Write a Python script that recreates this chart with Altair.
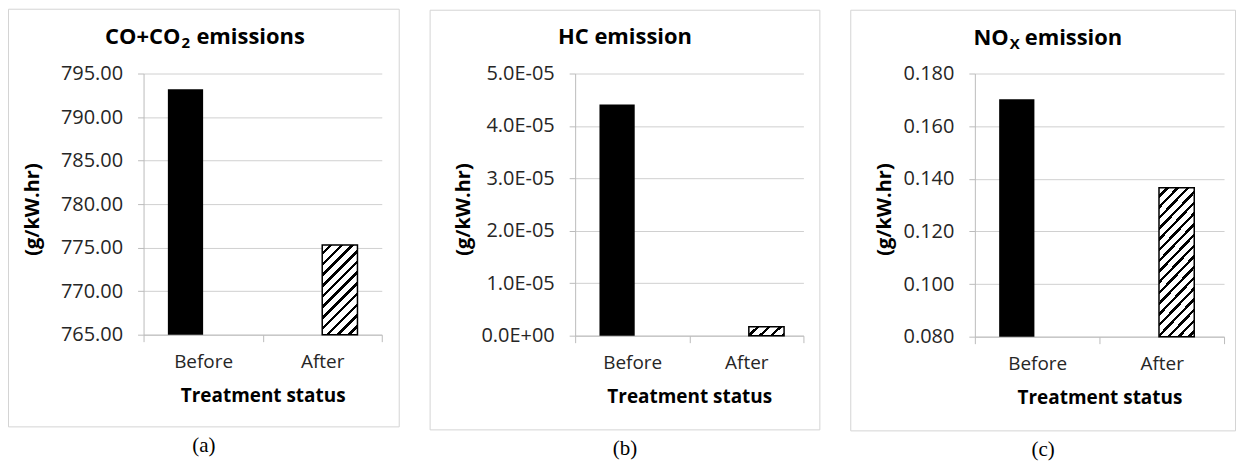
import math
import altair as alt
import pandas as pd

# ---------------- data ----------------
categories = ["Before", "After"]

co_values = [793.2, 775.3]
hc_values = [4.41e-05, 1.7e-06]
nox_values = [0.1702, 0.1366]

co_ticks = [765, 770, 775, 780, 785, 790, 795]
hc_ticks = [0.0, 1e-05, 2e-05, 3e-05, 4e-05, 5e-05]
nox_ticks = [0.08, 0.10, 0.12, 0.14, 0.16, 0.18]

co_title = ["CO+CO", "2", "emissions"]
hc_title = ["HC emission", "", ""]
nox_title = ["NO", "X", "emission"]

captions = ["(a)", "(b)", "(c)"]
y_title = "(g/kW.hr)"
x_title = "Treatment status"

FONT = "Open Sans"
GRID = "#d0d0d0"
AXIS = "#bcbcbc"
LABEL = "#262626"


def hatch_gradient(bar_w, bar_h, period=7.6, black_frac=0.33):
    """45-degree '/' stripes via a hard-stop linear gradient (bbox units)."""
    k = (bar_w + bar_h) / (bar_w ** 2 + bar_h ** 2)
    L = (bar_w + bar_h) / math.sqrt(2)
    stops = []
    s = 0.0
    while s < L:
        w0 = s / L
        b0 = min((s + period * (1 - black_frac)) / L, 1.0)
        b1 = min((s + period) / L, 1.0)
        stops += [
            alt.GradientStop(offset=w0, color="white"),
            alt.GradientStop(offset=b0, color="white"),
            alt.GradientStop(offset=b0, color="black"),
            alt.GradientStop(offset=b1, color="black"),
        ]
        s += period
    return alt.LinearGradient(
        gradient="linear", stops=stops, x1=0, y1=0, x2=k * bar_w, y2=k * bar_h
    )


def panel(values, ticks, label_expr, W, H, border, title_parts, title_pos,
          ytitle_x, caption, cap_x, po=0.69):
    dmin, dmax = ticks[0], ticks[-1]
    df = pd.DataFrame({"cat": categories, "series": categories, "value": values})
    one = pd.DataFrame({"k": [0]})

    band = W / 2
    bar_w = band / (2 + 2 * po)
    bar_h = (values[1] - dmin) / (dmax - dmin) * H
    grad = hatch_gradient(bar_w, bar_h)

    base = alt.Chart(df).encode(
        x=alt.X(
            "cat:N",
            sort=categories,
            scale=alt.Scale(domain=categories, paddingInner=0, paddingOuter=0),
            axis=alt.Axis(
                title=x_title, labelAngle=0, tickBand="extent", tickSize=7,
                labelPadding=11, grid=False, domainColor=AXIS, tickColor=AXIS,
                labelFont=FONT, labelFontSize=19, labelColor=LABEL,
                titleFont=FONT, titleFontSize=19, titleFontWeight="bold",
                titleColor="black", titleY=61, titleBaseline="middle",
            ),
        ),
        xOffset=alt.XOffset(
            "series:N",
            scale=alt.Scale(domain=categories, paddingInner=0, paddingOuter=po),
        ),
        y=alt.Y(
            "value:Q",
            scale=alt.Scale(domain=[dmin, dmax], zero=False, nice=False),
            axis=alt.Axis(
                values=ticks, labelExpr=label_expr, grid=True, gridColor=GRID,
                domainColor=AXIS, tickColor=AXIS, tickSize=6, labelPadding=15,
                labelFont=FONT, labelFontSize=20, labelColor=LABEL,
                title=y_title, titleFont=FONT, titleFontSize=20,
                titleFontWeight="bold", titleColor="black", titleAngle=270,
                titleX=ytitle_x, titleY=136, titleBaseline="middle",
                titleAlign="center",
            ),
        ),
        y2=alt.datum(dmin),
    )

    before = base.transform_filter(alt.datum.cat == "Before").mark_bar(
        color="black"
    )
    after = base.transform_filter(alt.datum.cat == "After").mark_bar(
        fill=grad, stroke="black", strokeWidth=1.5
    )

    bx0, bx1, by0, by1 = border
    frame = alt.Chart(one).mark_rect(
        fillOpacity=0, stroke="#d4d4d4", strokeWidth=1
    ).encode(
        x=alt.value(bx0), x2=alt.value(bx1), y=alt.value(by0), y2=alt.value(by1)
    )

    main_txt, sub_txt, rest_txt = title_parts
    tx, sx, rx, ty, sy = title_pos
    layers = [frame, before, after]
    if sub_txt:
        layers.append(
            alt.Chart(one).mark_text(
                font=FONT, fontSize=22, fontWeight="bold", align="right",
                baseline="alphabetic", color="black",
            ).encode(x=alt.value(tx), y=alt.value(ty), text=alt.value(main_txt))
        )
        layers.append(
            alt.Chart(one).mark_text(
                font=FONT, fontSize=15, fontWeight="bold", align="left",
                baseline="alphabetic", color="black",
            ).encode(x=alt.value(sx), y=alt.value(sy), text=alt.value(sub_txt))
        )
        layers.append(
            alt.Chart(one).mark_text(
                font=FONT, fontSize=22, fontWeight="bold", align="left",
                baseline="alphabetic", color="black",
            ).encode(x=alt.value(rx), y=alt.value(ty), text=alt.value(rest_txt))
        )
    else:
        layers.append(
            alt.Chart(one).mark_text(
                font=FONT, fontSize=22, fontWeight="bold", align="center",
                baseline="alphabetic", color="black",
            ).encode(x=alt.value(tx), y=alt.value(ty), text=alt.value(main_txt))
        )

    layers.append(
        alt.Chart(one).mark_text(
            font="Liberation Serif", fontSize=21, align="center",
            baseline="middle", color="black",
        ).encode(x=alt.value(cap_x), y=alt.value(by1 + 19), text=alt.value(caption))
    )
    return alt.layer(*layers).properties(width=W, height=H)


hc_expr = ("datum.value == 0 ? '0.0E+00' : "
           "format(datum.value * 100000, '.1f') + 'E-05'")

pa = panel(co_values, co_ticks, "format(datum.value, '.2f')", 239, 262,
           (-135.5, 256.5, -64.5, 354.5), co_title, (37, 38, 53, -30, -26),
           -111, captions[0], 60.5)
pb = panel(hc_values, hc_ticks, hc_expr, 229, 263,
           (-145.5, 245.5, -63.5, 357.5), hc_title, (50, 0, 0, -30, 0),
           -112, captions[1], 50)
pc = panel(nox_values, nox_ticks, "format(datum.value, '.3f')", 250, 264,
           (-124.5, 261.5, -63.5, 358.5), nox_title, (34, 35, 50, -29, -25),
           -91, captions[2], 68.5)

chart = alt.hconcat(pa, pb, pc, spacing=30).properties(
    padding=0, background="white"
).configure_view(strokeWidth=0)

chart.save("out.html", embed_options={"renderer": "svg", "actions": False})
